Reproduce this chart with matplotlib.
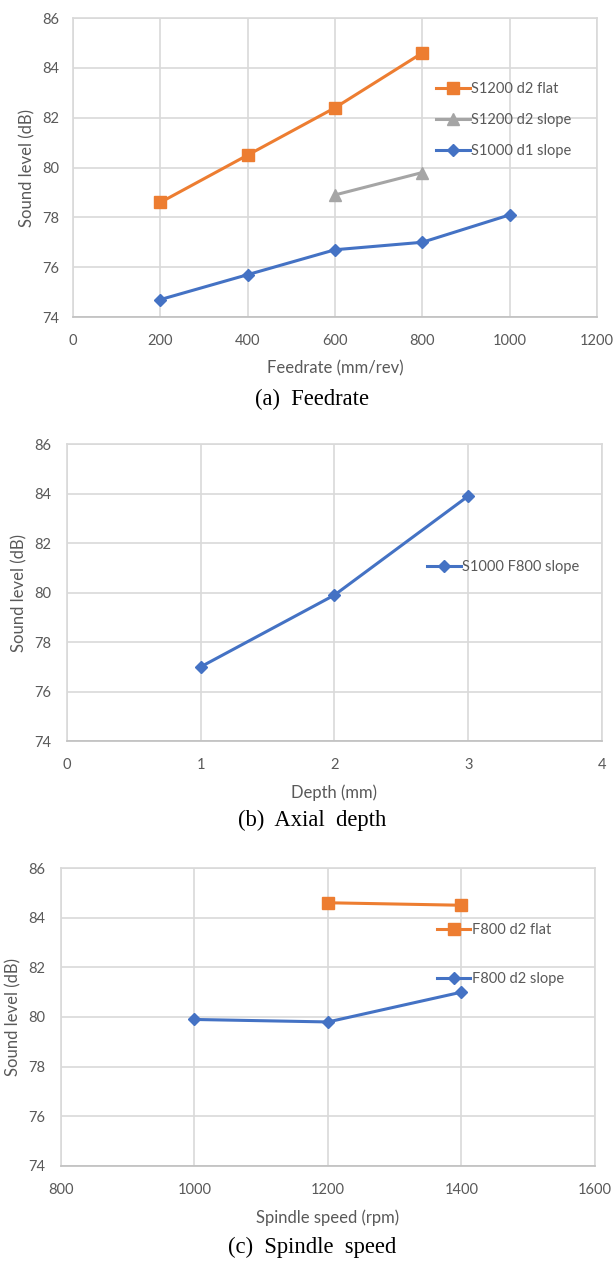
import matplotlib.pyplot as plt

# (a) Feedrate
feed_flat_x = [200, 400, 600, 800]
feed_flat_y = [78.6, 80.5, 82.4, 84.6]
feed_s12_slope_x = [600, 800]
feed_s12_slope_y = [78.9, 79.8]
feed_s10_slope_x = [200, 400, 600, 800, 1000]
feed_s10_slope_y = [74.7, 75.7, 76.7, 77.0, 78.1]

# (b) Axial depth
depth_x = [1, 2, 3]
depth_y = [77.0, 79.9, 83.9]

# (c) Spindle speed
speed_flat_x = [1200, 1400]
speed_flat_y = [84.6, 84.5]
speed_slope_x = [1000, 1200, 1400]
speed_slope_y = [79.9, 79.8, 81.0]

ORANGE = '#ED7D31'
GRAY = '#A5A5A5'
BLUE = '#4472C4'
TXT = '#595959'
GRID = '#D9D9D9'

plt.rcParams['font.family'] = ['Lato', 'DejaVu Sans']

fig = plt.figure(figsize=(6.14, 12.62), dpi=100)


def style_axes(ax, xlim, xticks, xlabel, ypad):
    ax.set_xlim(*xlim)
    ax.set_xticks(xticks)
    ax.set_ylim(74, 86)
    ax.set_yticks(range(74, 87, 2))
    ax.grid(True, color=GRID, linewidth=1.2)
    ax.set_axisbelow(True)
    for s in ax.spines.values():
        s.set_color(GRID)
        s.set_linewidth(1.2)
    ax.spines['bottom'].set_color('#BFBFBF')
    ax.tick_params(length=0, labelsize=10.5, colors=TXT)
    ax.tick_params(axis='x', pad=12)
    ax.tick_params(axis='y', pad=ypad)
    ax.set_xlabel(xlabel, fontsize=12, color=TXT, labelpad=9)
    ax.set_ylabel('Sound level (dB)', fontsize=12, color=TXT, labelpad=5)


def add_legend(ax, anchor, spacing):
    ax.legend(loc='center left', bbox_to_anchor=anchor, frameon=False,
              fontsize=10.5, labelcolor=TXT, borderpad=0, borderaxespad=0,
              handlelength=2.3, handletextpad=0.1, labelspacing=spacing)


# panel (a)
ax1 = fig.add_axes([0.1189, 0.7488, 0.8534, 0.2369])
ax1.plot(feed_flat_x, feed_flat_y, color=ORANGE, lw=2.2, marker='s', ms=8,
         label='S1200 d2 flat')
ax1.plot(feed_s12_slope_x, feed_s12_slope_y, color=GRAY, lw=2.2, marker='^',
         ms=8, label='S1200 d2 slope')
ax1.plot(feed_s10_slope_x, feed_s10_slope_y, color=BLUE, lw=2.2, marker='D',
         ms=6, label='S1000 d1 slope')
style_axes(ax1, (0, 1200), range(0, 1201, 200), 'Feedrate (mm/rev)', 10)
add_legend(ax1, (0.693, 0.659), 1.15)

# panel (b)
ax2 = fig.add_axes([0.1091, 0.4128, 0.8713, 0.2353])
ax2.plot(depth_x, depth_y, color=BLUE, lw=2.2, marker='D', ms=6,
         label='S1000 F800 slope')
style_axes(ax2, (0, 4), range(0, 5), 'Depth (mm)', 11.5)
add_legend(ax2, (0.673, 0.586), 1.15)

# panel (c)
ax3 = fig.add_axes([0.0993, 0.0761, 0.8697, 0.2361])
ax3.plot(speed_flat_x, speed_flat_y, color=ORANGE, lw=2.2, marker='s', ms=8,
         label='F800 d2 flat')
ax3.plot(speed_slope_x, speed_slope_y, color=BLUE, lw=2.2, marker='D', ms=6,
         label='F800 d2 slope')
style_axes(ax3, (800, 1600), range(800, 1601, 200), 'Spindle speed (rpm)', 11.5)
add_legend(ax3, (0.704, 0.71), 2.4)

# captions
cap = dict(fontsize=16.3, family='Liberation Serif', color='black',
           ha='center', va='center')
fig.text(312 / 614, 1 - 399 / 1262, '(a)  Feedrate', **cap)
fig.text(312 / 614, 1 - 820 / 1262, '(b)  Axial  depth', **cap)
fig.text(312 / 614, 1 - 1247 / 1262, '(c)  Spindle  speed', **cap)

fig.savefig('out.png', dpi=100, facecolor='white')
